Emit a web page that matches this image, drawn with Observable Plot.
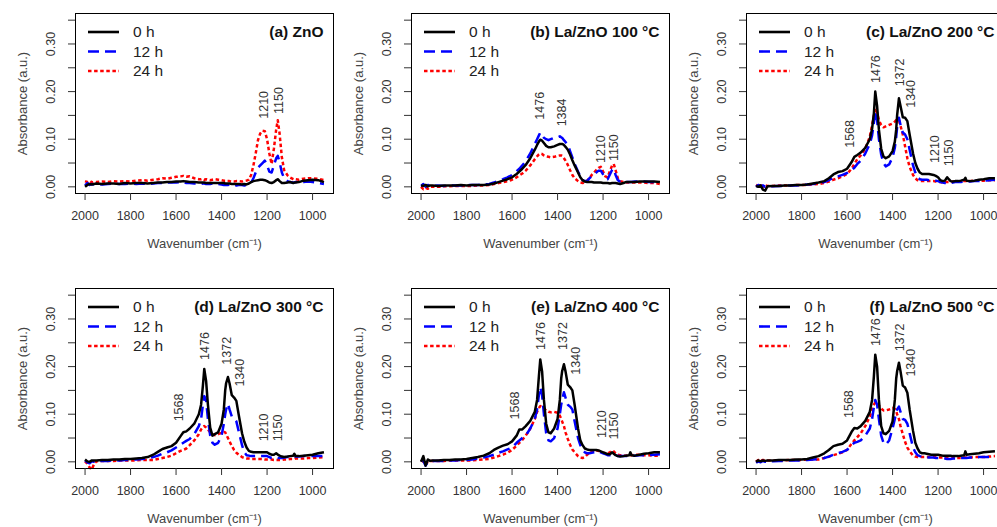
<!DOCTYPE html>
<html><head><meta charset="utf-8">
<script src="https://cdn.jsdelivr.net/npm/d3@7"></script>
<script src="https://cdn.jsdelivr.net/npm/@observablehq/plot@0.6"></script>
<style>
body{margin:0;background:#fff;overflow:hidden}
#wrap{position:relative;width:997px;height:527px;overflow:hidden;background:#fff}
.panel{position:absolute;width:336px;height:275px}
.panel svg{overflow:visible;background:transparent;max-width:none !important;width:336px;height:275px}
</style></head><body><div id="wrap"></div>
<script>
// ---------- data ----------
const wavenumber = [2000,1990,1980,1970,1960,1950, 1925,1900,1875,1850,1825,1800, 1775,1750,1725,1700,
  1680,1660,1640,1620,1600, 1580,1568,1555,1540,1520,1500, 1490,1482,1476,1468,1460,1450,
  1440,1430,1415,1400,1390,1384, 1380,1372,1365,1355,1345,1335, 1325,1310,1300,1290,1280,1270,
  1260,1250,1240,1230,1220,1210, 1200,1190,1180,1170,1160,1153, 1145,1135,1125,1110,1100,1085,
  1080,1075,1060,1040,1020,1000, 975,950];

const seriesNames = ["0 h", "12 h", "24 h"];
const panelTitles = ["(a) ZnO", "(b) La/ZnO 100 °C", "(c) La/ZnO 200 °C",
                     "(d) La/ZnO 300 °C", "(e) La/ZnO 400 °C", "(f) La/ZnO 500 °C"];
const xTicks = [2000, 1800, 1600, 1400, 1200, 1000];
const yTicks = [0, 0.05, 0.10, 0.15, 0.20, 0.25, 0.30, 0.35];
const yTickLabelValues = [0, 0.10, 0.20, 0.30];
const yTickLabels = ["0.00", "0.10", "0.20", "0.30"];

// (a) ZnO
const a0 = [0.000,0.004,0.006,0.005,0.006,0.007, 0.006,0.007,0.007,0.006,0.008,0.007, 0.008,0.008,0.007,0.008,
  0.009,0.009,0.010,0.010,0.011, 0.011,0.012,0.011,0.010,0.010,0.009, 0.009,0.009,0.009,0.008,0.008,0.008,
  0.008,0.008,0.008,0.008,0.008,0.007, 0.007,0.007,0.007,0.006,0.006,0.006, 0.006,0.005,0.006,0.005,0.007,0.010,
  0.012,0.013,0.014,0.015,0.015,0.014, 0.012,0.009,0.008,0.010,0.014,0.016, 0.012,0.008,0.008,0.009,0.010,0.008,
  0.009,0.009,0.010,0.013,0.014,0.015, 0.014,0.010];
const a12 = [0.003,0.008,0.004,0.006,0.005,0.006, 0.005,0.006,0.007,0.006,0.006,0.007, 0.006,0.007,0.006,0.007,
  0.008,0.008,0.009,0.009,0.009, 0.010,0.010,0.008,0.008,0.007,0.007, 0.006,0.007,0.007,0.006,0.006,0.006,
  0.007,0.006,0.006,0.005,0.004,0.004, 0.004,0.004,0.005,0.004,0.004,0.003, 0.004,0.004,0.003,0.004,0.005,0.009,
  0.018,0.030,0.040,0.045,0.050,0.055, 0.045,0.032,0.030,0.045,0.060,0.065, 0.052,0.030,0.018,0.012,0.010,0.009,
  0.009,0.010,0.010,0.010,0.011,0.010, 0.008,0.006];
const a24 = [0.012,0.010,0.013,0.009,0.011,0.010, 0.011,0.010,0.012,0.011,0.012,0.011, 0.013,0.014,0.013,0.015,
  0.016,0.018,0.017,0.019,0.021, 0.022,0.023,0.021,0.022,0.018,0.016, 0.016,0.017,0.015,0.016,0.015,0.014,
  0.015,0.016,0.015,0.014,0.013,0.013, 0.012,0.012,0.012,0.011,0.011,0.012, 0.012,0.011,0.012,0.013,0.015,0.025,
  0.045,0.070,0.098,0.112,0.118,0.117, 0.100,0.070,0.048,0.080,0.120,0.140, 0.112,0.062,0.035,0.024,0.020,0.016,
  0.015,0.016,0.015,0.017,0.018,0.018, 0.017,0.014];

// (b) La/ZnO 100 °C
const b0 = [0.003,0.002,0.004,0.001,0.003,0.003, 0.002,0.003,0.003,0.003,0.004,0.003, 0.004,0.004,0.004,0.005,
  0.007,0.010,0.013,0.016,0.020, 0.027,0.032,0.038,0.046,0.060,0.078, 0.088,0.095,0.099,0.097,0.092,0.086,
  0.083,0.083,0.085,0.088,0.090,0.090, 0.090,0.088,0.084,0.078,0.068,0.056, 0.045,0.030,0.020,0.014,0.011,0.010,
  0.010,0.010,0.009,0.009,0.009,0.009, 0.008,0.008,0.008,0.007,0.008,0.008, 0.008,0.007,0.006,0.008,0.010,0.010,
  0.010,0.010,0.010,0.011,0.011,0.011, 0.011,0.010];
const b12 = [0.002,0.006,0.000,0.004,0.001,0.002, 0.003,0.002,0.003,0.003,0.003,0.004, 0.004,0.004,0.005,0.006,
  0.009,0.013,0.016,0.020,0.025, 0.033,0.038,0.045,0.054,0.070,0.090, 0.100,0.108,0.114,0.108,0.103,0.100,
  0.098,0.100,0.103,0.104,0.106,0.104, 0.103,0.098,0.094,0.088,0.075,0.062, 0.048,0.032,0.022,0.014,0.012,0.012,
  0.018,0.022,0.026,0.030,0.034,0.034, 0.026,0.018,0.016,0.026,0.036,0.038, 0.025,0.014,0.011,0.010,0.010,0.010,
  0.010,0.010,0.011,0.011,0.011,0.010, 0.010,0.009];
const b24 = [0.000,-0.005,-0.002,-0.004,0.000,0.000, 0.000,0.001,0.001,0.002,0.002,0.002, 0.002,0.003,0.003,0.004,
  0.006,0.008,0.010,0.012,0.015, 0.020,0.024,0.028,0.034,0.045,0.058, 0.064,0.068,0.070,0.069,0.066,0.064,
  0.063,0.062,0.063,0.065,0.066,0.066, 0.065,0.060,0.055,0.046,0.035,0.025, 0.018,0.012,0.009,0.008,0.010,0.013,
  0.018,0.025,0.030,0.035,0.040,0.042, 0.032,0.022,0.020,0.033,0.045,0.048, 0.035,0.018,0.012,0.010,0.009,0.009,
  0.009,0.009,0.009,0.009,0.009,0.008, 0.008,0.006];

// (c) La/ZnO 200 °C
const c0 = [0.002,0.000,0.003,-0.006,-0.008,0.001, 0.002,0.002,0.003,0.003,0.004,0.004, 0.005,0.007,0.009,0.012,
  0.018,0.026,0.031,0.033,0.038, 0.052,0.063,0.067,0.072,0.082,0.100, 0.122,0.155,0.200,0.170,0.120,0.080,
  0.064,0.060,0.064,0.075,0.095,0.120, 0.150,0.186,0.170,0.146,0.145,0.138, 0.110,0.070,0.050,0.038,0.030,0.027,
  0.027,0.027,0.027,0.026,0.025,0.023, 0.020,0.014,0.012,0.013,0.020,0.016, 0.012,0.011,0.012,0.012,0.013,0.015,
  0.019,0.013,0.012,0.013,0.015,0.016, 0.018,0.018];
const c12 = [0.000,0.004,0.001,0.003,0.000,0.002, 0.001,0.002,0.002,0.003,0.003,0.004, 0.005,0.006,0.008,0.010,
  0.014,0.019,0.022,0.025,0.029, 0.035,0.040,0.048,0.055,0.070,0.090, 0.108,0.135,0.160,0.140,0.100,0.068,
  0.050,0.043,0.047,0.062,0.082,0.105, 0.125,0.145,0.130,0.114,0.110,0.100, 0.078,0.045,0.030,0.020,0.016,0.015,
  0.015,0.015,0.014,0.014,0.013,0.013, 0.012,0.010,0.009,0.008,0.008,0.007, 0.008,0.009,0.010,0.010,0.010,0.011,
  0.011,0.011,0.011,0.012,0.012,0.013, 0.014,0.015];
const c24 = [0.004,0.001,0.005,0.000,0.003,0.002, 0.002,0.003,0.003,0.003,0.004,0.004, 0.004,0.005,0.006,0.008,
  0.011,0.015,0.018,0.022,0.027, 0.038,0.048,0.058,0.066,0.080,0.105, 0.130,0.150,0.165,0.155,0.140,0.130,
  0.125,0.127,0.130,0.133,0.137,0.140, 0.141,0.140,0.128,0.110,0.085,0.060, 0.042,0.025,0.018,0.014,0.012,0.012,
  0.012,0.012,0.012,0.012,0.012,0.011, 0.010,0.010,0.009,0.010,0.010,0.010, 0.010,0.011,0.011,0.011,0.012,0.012,
  0.012,0.012,0.012,0.013,0.013,0.013, 0.014,0.014];

// (d) La/ZnO 300 °C
const d0 = [0.005,0.001,0.000,0.003,0.003,0.003, 0.004,0.004,0.005,0.005,0.006,0.006, 0.007,0.008,0.010,0.015,
  0.021,0.027,0.030,0.033,0.040, 0.054,0.062,0.064,0.070,0.080,0.100, 0.120,0.160,0.195,0.170,0.120,0.072,
  0.055,0.058,0.062,0.080,0.110,0.150, 0.165,0.178,0.165,0.140,0.135,0.128, 0.100,0.060,0.042,0.030,0.023,0.021,
  0.020,0.020,0.020,0.020,0.020,0.020, 0.020,0.017,0.015,0.015,0.018,0.015, 0.013,0.011,0.010,0.011,0.012,0.013,
  0.017,0.012,0.012,0.013,0.014,0.015, 0.018,0.020];
const d12 = [0.003,-0.001,-0.003,0.001,0.000,0.002, 0.002,0.002,0.003,0.003,0.004,0.004, 0.005,0.006,0.008,0.010,
  0.013,0.017,0.020,0.024,0.030, 0.036,0.040,0.044,0.048,0.058,0.075, 0.090,0.120,0.138,0.130,0.090,0.055,
  0.040,0.036,0.040,0.055,0.080,0.100, 0.110,0.122,0.110,0.095,0.091,0.085, 0.065,0.035,0.020,0.014,0.013,0.012,
  0.012,0.012,0.012,0.012,0.012,0.012, 0.012,0.010,0.008,0.008,0.009,0.008, 0.008,0.008,0.009,0.010,0.010,0.010,
  0.011,0.011,0.011,0.012,0.012,0.012, 0.012,0.012];
const d24 = [0.001,-0.004,-0.012,-0.016,-0.004,0.001, 0.002,0.002,0.002,0.003,0.003,0.003, 0.003,0.004,0.004,0.004,
  0.006,0.008,0.010,0.013,0.018, 0.023,0.025,0.028,0.035,0.045,0.058, 0.068,0.073,0.075,0.072,0.068,0.062,
  0.058,0.056,0.058,0.061,0.063,0.062, 0.058,0.050,0.043,0.033,0.025,0.019, 0.015,0.010,0.008,0.007,0.007,0.006,
  0.006,0.006,0.006,0.006,0.006,0.005, 0.005,0.005,0.005,0.004,0.004,0.004, 0.004,0.004,0.005,0.005,0.006,0.006,
  0.006,0.007,0.007,0.007,0.008,0.008, 0.009,0.010];

// (e) La/ZnO 400 °C
const e0 = [0.000,0.012,-0.008,0.005,0.002,0.003, 0.003,0.004,0.004,0.005,0.005,0.006, 0.008,0.010,0.013,0.018,
  0.025,0.030,0.034,0.037,0.043, 0.055,0.068,0.068,0.075,0.086,0.105, 0.130,0.180,0.215,0.190,0.130,0.080,
  0.062,0.060,0.070,0.090,0.130,0.175, 0.190,0.205,0.190,0.162,0.157,0.150, 0.120,0.070,0.045,0.035,0.028,0.026,
  0.025,0.025,0.025,0.025,0.024,0.022, 0.020,0.018,0.016,0.016,0.020,0.017, 0.014,0.012,0.011,0.012,0.013,0.014,
  0.020,0.014,0.013,0.015,0.017,0.018, 0.020,0.020];
const e12 = [0.005,0.002,-0.008,0.000,0.001,0.002, 0.002,0.002,0.003,0.003,0.004,0.004, 0.005,0.007,0.009,0.012,
  0.015,0.019,0.022,0.026,0.030, 0.040,0.045,0.050,0.055,0.070,0.090, 0.110,0.140,0.157,0.140,0.100,0.060,
  0.045,0.043,0.050,0.070,0.100,0.120, 0.130,0.146,0.135,0.120,0.116,0.110, 0.085,0.050,0.035,0.025,0.020,0.018,
  0.018,0.019,0.020,0.021,0.022,0.020, 0.018,0.016,0.014,0.014,0.015,0.015, 0.014,0.012,0.012,0.012,0.012,0.013,
  0.013,0.013,0.013,0.014,0.014,0.014, 0.015,0.016];
const e24 = [0.004,0.000,-0.005,0.000,0.002,0.002, 0.002,0.002,0.003,0.003,0.003,0.003, 0.003,0.004,0.005,0.006,
  0.009,0.012,0.015,0.019,0.025, 0.034,0.040,0.046,0.055,0.070,0.090, 0.105,0.113,0.117,0.115,0.112,0.108,
  0.105,0.104,0.105,0.103,0.097,0.090, 0.085,0.075,0.062,0.048,0.036,0.026, 0.020,0.012,0.009,0.008,0.010,0.015,
  0.019,0.022,0.024,0.024,0.023,0.021, 0.019,0.018,0.018,0.020,0.024,0.022, 0.018,0.015,0.014,0.013,0.013,0.014,
  0.014,0.014,0.015,0.015,0.014,0.014, 0.013,0.013];

// (f) La/ZnO 500 °C
const f0 = [0.000,0.003,0.001,0.003,0.002,0.003, 0.003,0.004,0.004,0.004,0.005,0.005, 0.006,0.009,0.012,0.018,
  0.025,0.033,0.036,0.038,0.045, 0.063,0.071,0.070,0.075,0.086,0.105, 0.130,0.180,0.225,0.200,0.130,0.075,
  0.060,0.058,0.065,0.085,0.130,0.175, 0.190,0.208,0.190,0.160,0.156,0.145, 0.110,0.065,0.040,0.028,0.020,0.018,
  0.018,0.017,0.016,0.015,0.015,0.015, 0.015,0.014,0.013,0.013,0.013,0.013, 0.013,0.012,0.012,0.012,0.013,0.014,
  0.022,0.015,0.016,0.017,0.018,0.020, 0.021,0.022];
const f12 = [-0.002,0.001,-0.001,0.002,0.000,0.001, 0.001,0.002,0.002,0.003,0.003,0.003, 0.004,0.005,0.006,0.008,
  0.011,0.015,0.018,0.021,0.025, 0.035,0.040,0.042,0.045,0.055,0.070, 0.090,0.115,0.130,0.120,0.090,0.055,
  0.040,0.036,0.045,0.070,0.090,0.105, 0.110,0.116,0.105,0.090,0.088,0.080, 0.060,0.030,0.020,0.014,0.012,0.011,
  0.010,0.010,0.009,0.009,0.009,0.008, 0.008,0.008,0.007,0.007,0.006,0.006, 0.006,0.007,0.007,0.008,0.008,0.008,
  0.008,0.008,0.009,0.009,0.010,0.010, 0.010,0.010];
const f24 = [0.000,0.004,0.002,0.004,0.003,0.003, 0.003,0.003,0.003,0.004,0.004,0.004, 0.005,0.005,0.005,0.008,
  0.011,0.014,0.017,0.020,0.025, 0.038,0.045,0.052,0.060,0.075,0.095, 0.110,0.120,0.125,0.122,0.118,0.112,
  0.108,0.108,0.110,0.113,0.111,0.106, 0.100,0.090,0.075,0.058,0.042,0.030, 0.022,0.013,0.011,0.010,0.010,0.010,
  0.010,0.010,0.010,0.010,0.010,0.010, 0.010,0.009,0.009,0.009,0.008,0.008, 0.008,0.008,0.008,0.008,0.008,0.009,
  0.009,0.009,0.009,0.010,0.010,0.010, 0.011,0.012];

// peak annotations (text, wavenumber position, absorbance position)
const aPeakText = ["1210","1150"];               const aPeakX = [1212,1149];           const aPeakY = [0.143,0.153];
const bPeakText = ["1476","1384","1210","1150"]; const bPeakX = [1478,1380,1207,1151]; const bPeakY = [0.141,0.127,0.050,0.054];
const cPeakText = ["1568","1476","1372","1340","1210","1150"]; const cPeakX = [1589,1472,1366,1319,1212,1153]; const cPeakY = [0.082,0.218,0.211,0.166,0.050,0.043];
const dPeakText = ["1568","1476","1372","1340","1210","1150"]; const dPeakX = [1587,1474,1374,1318,1213,1151]; const dPeakY = [0.085,0.214,0.204,0.158,0.043,0.043];
const ePeakText = ["1568","1476","1372","1340","1210","1150"]; const ePeakX = [1585,1475,1376,1321,1206,1151]; const ePeakY = [0.089,0.235,0.235,0.183,0.050,0.047];
const fPeakText = ["1568","1476","1372","1340"]; const fPeakX = [1590,1472,1369,1318]; const fPeakY = [0.092,0.243,0.232,0.179];

// ---------- styles ----------
const seriesColors = ["#000000", "#0000ff", "#ff0000"];
const seriesDash = [null, "11,6", "3.5,2.6"];
const FONT = "'Liberation Sans', Arial, sans-serif";

const panelSeries = [[a0,a12,a24],[b0,b12,b24],[c0,c12,c24],[d0,d12,d24],[e0,e12,e24],[f0,f12,f24]];
const panelPeaks = [[aPeakText,aPeakX,aPeakY],[bPeakText,bPeakX,bPeakY],[cPeakText,cPeakX,cPeakY],
                    [dPeakText,dPeakX,dPeakY],[ePeakText,ePeakX,ePeakY],[fPeakText,fPeakX,fPeakY]];

const W = 336, H = 275, ML = 75, MR = 3, MT = 13, MB = 82;
const colLeft = [0, 335.5, 671], rowTop = [0, 275];
const wrap = document.getElementById("wrap");

panelTitles.forEach((title, p) => {
  const lines = panelSeries[p].map((vals, s) => {
    const rows = wavenumber.map((w, i) => ({w, v: vals[i]}));
    return Plot.line(rows, {x: "w", y: "v", stroke: seriesColors[s], strokeWidth: 2.5,
      strokeDasharray: seriesDash[s] || undefined, strokeLinejoin: "round", strokeLinecap: "butt"});
  });
  const [pt, px, py] = panelPeaks[p];
  const peaks = pt.map((t, i) => ({t, x: px[i], y: py[i]}));

  const svg = Plot.plot({
    width: W, height: H, marginLeft: ML, marginRight: MR, marginTop: MT, marginBottom: MB,
    style: {fontFamily: FONT, fontSize: "12.5px", color: "#333", background: "transparent", overflow: "visible", maxWidth: "none"},
    x: {domain: [2042, 908], label: null},
    y: {domain: [-0.014, 0.364], label: null},
    marks: [
      ...lines.reverse(),
      Plot.frame({stroke: "#000", strokeWidth: 1}),
      Plot.axisX({ticks: xTicks, tickSize: 7, tickPadding: 11, tickFormat: d => String(d), stroke: "#333", fill: "#333", fontSize: 12.5}),
      Plot.axisY({ticks: yTicks, tickSize: 7, tickFormat: () => "", stroke: "#333"}),
      Plot.text(yTickLabelValues, {y: d => d, text: (d, i) => yTickLabels[i], frameAnchor: "left", dx: -25,
        rotate: -90, textAnchor: "middle", fill: "#333", fontSize: 12.5}),
      Plot.text(["Absorbance (a.u.)"], {text: d => d, frameAnchor: "left", dx: -53, rotate: -90,
        textAnchor: "middle", fill: "#444", fontSize: 13}),
      Plot.text(["Wavenumber (cm⁻¹)"], {text: d => d, frameAnchor: "bottom", dy: 50,
        textAnchor: "middle", lineAnchor: "middle", fill: "#444", fontSize: 13}),
      Plot.text([title], {text: d => d, frameAnchor: "top-right", dx: -10, dy: 19, textAnchor: "end",
        lineAnchor: "middle", fontWeight: "bold", fontSize: 15.5, fill: "#111"}),
      Plot.text(peaks, {x: "x", y: "y", text: "t", rotate: -90, textAnchor: "start", lineAnchor: "middle",
        fill: "#333", fontSize: 12.5})
    ]
  });

  // legend
  const g = d3.select(svg).append("g").attr("text-anchor", "start");
  seriesNames.forEach((name, s) => {
    const y = MT + 19 + s * 19.5;
    g.append("line").attr("x1", ML + 13).attr("x2", ML + 44).attr("y1", y).attr("y2", y)
      .attr("stroke", seriesColors[s]).attr("stroke-width", 2.6)
      .attr("stroke-dasharray", seriesDash[s]);
    g.append("text").attr("x", ML + 58).attr("y", y).attr("dy", "0.35em").attr("text-anchor", "start")
      .attr("font-family", FONT).attr("font-size", 15.5).attr("fill", "#222").text(name);
  });

  const div = document.createElement("div");
  div.className = "panel";
  div.style.left = colLeft[p % 3] + "px";
  div.style.top = rowTop[Math.floor(p / 3)] + "px";
  div.appendChild(svg);
  wrap.appendChild(div);
});
</script>
</body></html>
